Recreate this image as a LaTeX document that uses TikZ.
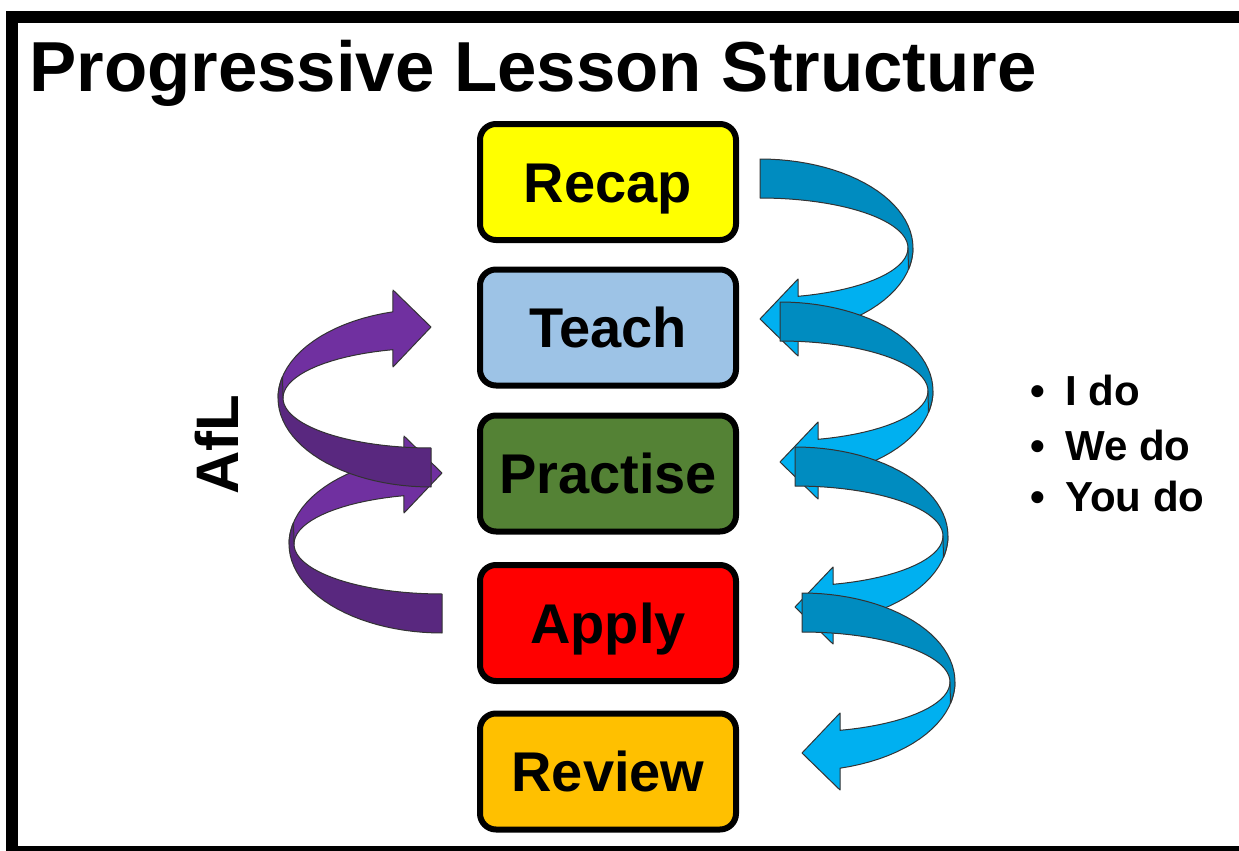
\documentclass[tikz,border=0pt]{standalone}
\usepackage{fontspec}
\setmainfont{Liberation Sans}
\usepackage{tikz}

\definecolor{recapcol}{HTML}{FFFF00}
\definecolor{teachcol}{HTML}{9DC3E6}
\definecolor{practisecol}{HTML}{548235}
\definecolor{applycol}{HTML}{FF0000}
\definecolor{reviewcol}{HTML}{FFC000}
\definecolor{bluefront}{HTML}{00B0F0}
\definecolor{blueback}{HTML}{008CC0}
\definecolor{purplefront}{HTML}{7030A0}
\definecolor{purpleback}{HTML}{59287F}

% twisted ribbon arrow, tail at the origin, head below it
\newcommand{\twistarrow}[2]{%
	\filldraw[ribbon, fill=#1] (148,89)
		-- plot[variable=\t, domain=0:75.1, samples=20] ({148*cos(\t)},{89+50*sin(\t)})
		-- (38,120) -- (0,160) -- (38,197)
		-- plot[variable=\t, domain=75.6:0, samples=20] ({153*cos(\t)},{89+89*sin(\t)})
		-- cycle;
	\filldraw[ribbon, fill=#2] (0,0)
		-- plot[variable=\t, domain=-90:14, samples=30] ({153*cos(\t)},{89+89*sin(\t)})
		-- plot[variable=\t, domain=0:-90, samples=25] ({148*cos(\t)},{89+50*sin(\t)})
		-- cycle;
}

\begin{document}
\begin{tikzpicture}[x=0.5pt,y=-0.5pt,
	stage/.style={draw=black, line width=3pt, rounded corners=8pt, minimum width=128pt, minimum height=58pt, inner sep=0pt, font=\bfseries\fontsize{28pt}{34pt}\selectfont, text height=20pt, text depth=0pt},
	ribbon/.style={draw=black!80, line width=0.5pt, line join=round}]

	\clip (0,0) rectangle (1239,851);
	\fill[white] (0,0) rectangle (1239,851);

	% Frame
	\draw[line width=6pt] (12,17) rectangle (1300,852);

	% Title
	\node[anchor=base west, inner sep=0pt, font=\bfseries\fontsize{35.4pt}{42pt}\selectfont] (title) at (29,91) {Progressive Lesson Structure};

	% Stages
	\node[stage, fill=recapcol] (recap) at (608,182) {Recap};
	\node[stage, fill=teachcol] (teach) at (608,327.5) {Teach};
	\node[stage, fill=practisecol] (practise) at (608,473.5) {Practise};
	\node[stage, fill=applycol] (apply) at (608,623) {Apply};
	\node[stage, fill=reviewcol] (review) at (608,771.5) {Review};

	% Blue arrows down the right side
	\foreach \ax/\ay in {760/159, 780/302, 795/447, 802/593}{
		\begin{scope}[shift={(\ax,\ay)}]
			\twistarrow{bluefront}{blueback}
		\end{scope}
	}

	% Purple arrows up the left side
	\foreach \ax/\ay in {442/633, 431/487}{
		\begin{scope}[shift={(\ax,\ay)}, rotate=180]
			\twistarrow{purplefront}{purpleback}
		\end{scope}
	}

	% Labels
	\node[rotate=90, anchor=base, inner sep=0pt, font=\bfseries\fontsize{30pt}{36pt}\selectfont] (afl) at (238,445) {AfL};

	\node[anchor=base west, inner sep=0pt, font=\bfseries\fontsize{21pt}{26pt}\selectfont] (ido) at (1065,405) {\llap{\textbullet\hspace{10pt}}I do};
	\node[anchor=base west, inner sep=0pt, font=\bfseries\fontsize{21pt}{26pt}\selectfont] (wedo) at (1065,460) {\llap{\textbullet\hspace{10pt}}We do};
	\node[anchor=base west, inner sep=0pt, font=\bfseries\fontsize{21pt}{26pt}\selectfont] (youdo) at (1065,511) {\llap{\textbullet\hspace{10pt}}You do};

\end{tikzpicture}
\end{document}
